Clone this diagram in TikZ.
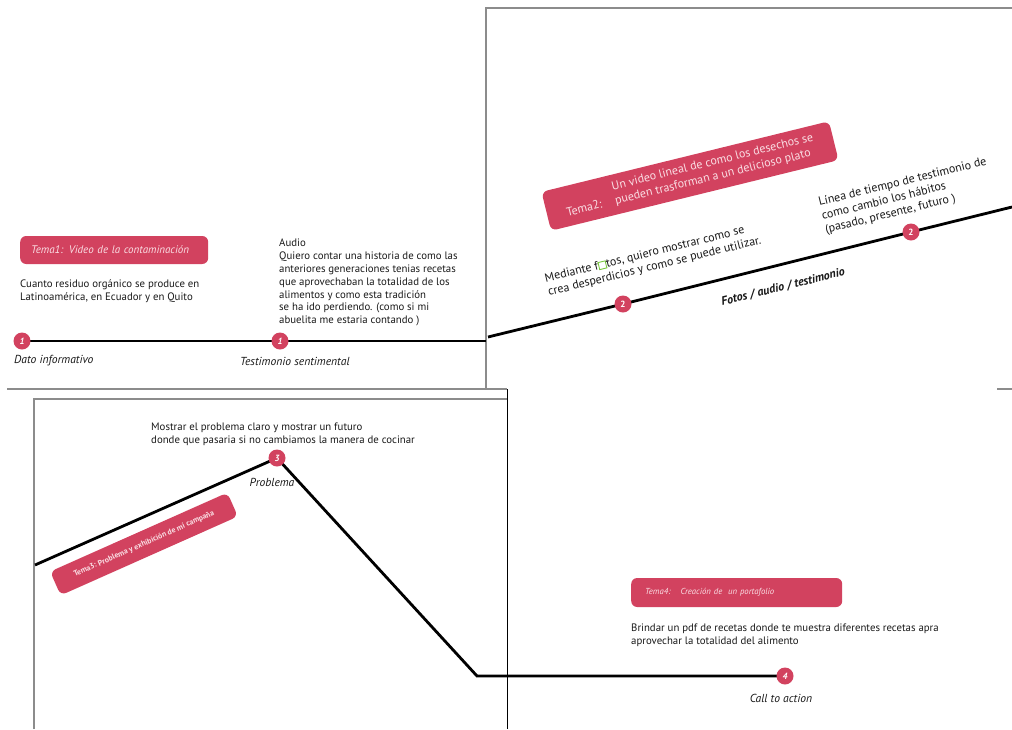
\documentclass[tikz,border=0pt]{standalone}
\usepackage{fontspec}
\setmainfont{PT Sans}
\definecolor{tema}{RGB}{210,66,95}
\definecolor{temtext}{RGB}{250,222,228}
\definecolor{ink}{RGB}{25,25,25}
\definecolor{framegray}{RGB}{140,140,140}
\definecolor{gmark}{RGB}{120,200,60}
\newcommand\gmarkbox{{\color{gmark}\fboxsep=0pt\fboxrule=0.9pt\fbox{\phantom{o}}}}
\begin{document}
\begin{tikzpicture}[x=1pt,y=-1pt,
  frameline/.style={draw=framegray,line width=1.3pt},
  tline/.style={draw=black,line width=2.8pt,line join=miter},
  dot/.style={circle,fill=tema,inner sep=0pt,minimum size=17pt,text=white,font=\fontsize{9}{9}\selectfont\bfseries\itshape},
  dotup/.style={dot,font=\fontsize{9}{9}\selectfont\bfseries},
  body/.style={inner sep=0pt,text=ink,align=left,font=\fontsize{10.8}{12.8}\selectfont},
  rbody/.style={inner sep=0pt,text=ink,align=left,rotate=13.8,font=\fontsize{12}{14}\selectfont},
  lab/.style={inner sep=0pt,text=ink,font=\fontsize{11.6}{13}\selectfont\itshape},
  temabox/.style={fill=tema,rounded corners=6pt,text=temtext,inner sep=0pt}
]
\useasboundingbox (0,0) rectangle (1012,729);
% ---- frames
\draw[frameline] (486,389) -- (486,8) -- (1012,8);
\draw[frameline] (997,389) -- (1012,389);
\draw[frameline] (7,389) -- (507,389);
\draw[frameline] (34,729) -- (34,399) -- (507,399);
\draw[black,line width=0.9pt] (507,389) -- (507,729);

% ---- panel 1
\coordinate (p1) at (22,341);
\coordinate (p2) at (280,341);
\coordinate (p1end) at (486,341);
\draw[tline] (p1) -- (p2) -- (p1end);
\node[dot] (d1a) at (p1) {1};
\node[dot] (d1b) at (p2) {1};
\node[lab,anchor=west] (l1a) at (14,361) {Dato informativo};
\node[lab,anchor=west] (l1b) at (240,361) {Testimonio sentimental};
\node[temabox,anchor=west,minimum width=188pt,minimum height=28pt,text width=166pt,inner xsep=11pt,align=left,font=\fontsize{11}{12}\selectfont\itshape] (t1) at (20,250) {Tema1: Video de la contaminación};
\node[body,anchor=north west] (x1) at (20,280) {Cuanto residuo orgánico se produce en\\Latinoamérica, en Ecuador y en Quito};
\node[body,anchor=north west] (x2) at (279,239) {Audio\\Quiero contar una historia de como las\\anteriores generaciones tenias recetas\\que aprovechaban la totalidad de los\\alimentos y como esta tradición\\se ha ido perdiendo. (como si mi\\abuelita me estaria contando )};

% ---- panel 2
\coordinate (q0) at (488,337);
\coordinate (q1) at (623,304);
\coordinate (q2) at (911,232);
\coordinate (qend) at (1012,207);
\draw[tline] (q0) -- (q1) -- (q2) -- (qend);
\node[dotup] (d2a) at (q1) {2};
\node[dotup] (d2b) at (q2) {2};
\node[temabox,rotate=13.8,minimum width=296pt,minimum height=40pt,font=\fontsize{12}{13}\selectfont] (t2) at (690,176)
  {\begin{tabular}{@{}l@{\hspace{14pt}}l@{}} & Un video lineal de como los desechos se\\[1.5pt] Tema2: & pueden trasforman a un delicioso plato\end{tabular}};
\node[rbody] (x3) at (653,260) {Mediante f\gmarkbox tos, quiero mostrar como se\\crea desperdicios y como se puede utilizar.};
\node[rbody] (x4) at (906,196) {Línea de tiempo de testimonio de\\como cambio los hábitos\\(pasado, presente, futuro )};
\node[lab,rotate=13.8,font=\fontsize{12}{13}\selectfont\bfseries\itshape] (l2) at (783,287) {Fotos\ /\ audio\ /\ testimonio};

% ---- panel 3
\coordinate (r0) at (35,565);
\coordinate (r3) at (277,458);
\coordinate (rc) at (477,676);
\coordinate (r4) at (785,676);
\draw[tline] (r0) -- (r3) -- (rc) -- (r4);
\node[dot] (d3) at (r3) {3};
\node[dot] (d4) at (r4) {4};
\node[lab] (l3) at (272,482) {Problema};
\node[lab] (l4) at (781,698) {Call to action};
\node[body,anchor=north west] (x5) at (151,423) {Mostrar el problema claro y mostrar un futuro\\donde que pasaria si no cambiamos la manera de cocinar};
\node[temabox,rotate=24,minimum width=194pt,minimum height=26pt,font=\fontsize{7.8}{9}\selectfont\bfseries] (t3) at (144,544) {Tema3: Problema y exhibición de mi campaña};
\node[temabox,anchor=west,minimum width=211pt,minimum height=29pt,text width=183pt,inner xsep=14pt,align=left,font=\fontsize{8.7}{10}\selectfont\itshape] (t4) at (631,592.5) {Tema4:\hspace{10pt}Creación de\ \ un portafolio};
\node[body,anchor=north west] (x6) at (631,624) {Brindar un pdf de recetas donde te muestra diferentes recetas apra\\aprovechar la totalidad del alimento};
\end{tikzpicture}
\end{document}
